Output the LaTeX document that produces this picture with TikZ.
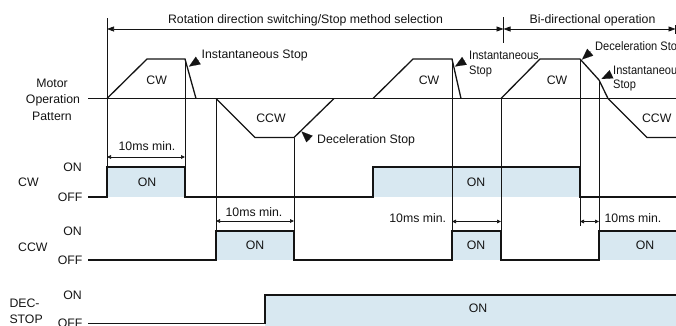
\documentclass[tikz,border=0pt]{standalone}
\usepackage{fontspec}
\setmainfont{Liberation Sans}
\newfontfamily\narrowsans[FakeStretch=0.9]{Liberation Sans}
\usetikzlibrary{arrows.meta}
\definecolor{onfill}{RGB}{216,232,241}
\definecolor{ink}{RGB}{20,20,20}
\begin{document}
\begin{tikzpicture}[x=1pt,y=-1pt,
  lbl/.style={inner sep=0pt,text height=8.8pt,text depth=0pt,text=ink,font=\fontsize{12.3}{14}\selectfont},
  nlbl/.style={lbl,font=\narrowsans\fontsize{12.3}{14}\selectfont},
  sig/.style={line width=1.6pt,draw=ink,line join=miter},
  mot/.style={line width=1.3pt,draw=ink,line join=miter},
  thinline/.style={line width=0.7pt,draw=ink},
  spanarrow/.style={thinline,{Triangle[length=7pt,width=5pt]}-{Triangle[length=7pt,width=5pt]}},
  msarrow/.style={thinline,{Triangle[length=4pt,width=3.6pt]}-{Triangle[length=4pt,width=3.6pt]}},
  pointer/.style={draw=ink,fill=ink,line width=0.1pt,-{Triangle[length=11pt,width=9pt]}}]
\useasboundingbox (0,0) rectangle (676,325);
\begin{scope}
\clip (0,0) rectangle (676,325);
% fills
\fill[onfill] (107,166.7) rectangle (185,196.7);
\fill[onfill] (373,166.7) rectangle (580,196.7);
\fill[onfill] (216,231) rectangle (294,260);
\fill[onfill] (452,231) rectangle (501,260);
\fill[onfill] (599,231) rectangle (676,260);
\fill[onfill] (265,295) rectangle (676,326);
% thin guide lines
\draw[thinline] (107,18) -- (107,166.7);
\draw[thinline] (185,59) -- (185,166.7);
\draw[thinline] (216,98.5) -- (216,231);
\draw[thinline] (294,137.5) -- (294,231);
\draw[thinline] (452,59) -- (452,231);
\draw[thinline] (501,98.5) -- (501,231);
\draw[thinline] (580,59) -- (580,226);
\draw[thinline] (599,80) -- (599,231);
\draw[thinline] (503.5,17) -- (503.5,43);
\draw[thinline] (675.5,25) -- (675.5,34);
% top span arrows
\coordinate (aL) at (107,29);
\coordinate (aM) at (503.5,29);
\coordinate (aR) at (675.5,29);
\draw[spanarrow] (aL) -- (aM);
\draw[spanarrow] (aM) -- (aR);
\node[lbl] (trot) at (305.5,19) {Rotation direction switching/Stop method selection};
\node[lbl] (tbi) at (592.5,19) {Bi-directional operation};
% motor pattern
\draw[mot] (88,98.5) -- (676,98.5);
\draw[mot] (107,98.5) -- (147,59) -- (185,59) -- (196,98.5);
\draw[mot] (216,98.5) -- (255,137.5) -- (294,137.5) -- (334,98.5);
\draw[mot] (373,98.5) -- (413,59) -- (452,59) -- (461,98.5);
\draw[mot] (501,98.5) -- (540,59) -- (580,59) -- (599,80) -- (608,98.5) -- (647,137.5) -- (677,137.5);
\node[lbl] (cw1) at (156.7,80) {CW};
\node[lbl] (ccw1) at (271,118) {CCW};
\node[lbl] (cw2) at (429,80) {CW};
\node[lbl] (cw3) at (557,80) {CW};
\node[lbl] (ccw3) at (656.7,118) {CCW};
\node[lbl] (mo1) at (52,83) {Motor};
\node[lbl] (mo2) at (53,99.5) {Operation};
\node[lbl] (mo3) at (52,116) {Pattern};
% pointers
\coordinate (p1t) at (189,66.5); \coordinate (p1b) at (199,60);
\coordinate (p2t) at (301.5,131.5); \coordinate (p2b) at (310,139.5);
\coordinate (p3t) at (455,66.5); \coordinate (p3b) at (465,60.5);
\coordinate (p4t) at (582,59.5); \coordinate (p4b) at (591,51.5);
\coordinate (p5t) at (601.5,79); \coordinate (p5b) at (612,74);
\draw[pointer] (p1b) -- (p1t);
\draw[pointer] (p2b) -- (p2t);
\draw[pointer] (p3b) -- (p3t);
\draw[pointer] (p4b) -- (p4t);
\draw[pointer] (p5b) -- (p5t);
\node[lbl,anchor=west] (s1) at (201.5,54.5) {Instantaneous Stop};
\node[lbl,anchor=west] (s2) at (317,139) {Deceleration Stop};
\node[nlbl,anchor=west] (s3a) at (469,55) {Instantaneous};
\node[nlbl,anchor=west] (s3b) at (469,70) {Stop};
\node[nlbl,anchor=west] (s4) at (595,46) {Deceleration Stop};
\node[nlbl,anchor=west] (s5a) at (613,70) {Instantaneous};
\node[nlbl,anchor=west] (s5b) at (613,84.5) {Stop};
% signals
\draw[sig] (88,196.7) -- (107,196.7) -- (107,166.7) -- (185,166.7) -- (185,196.7) -- (373,196.7) -- (373,166.7) -- (580,166.7) -- (580,196.7) -- (677,196.7);
\draw[sig] (88,260) -- (216,260) -- (216,231) -- (294,231) -- (294,260) -- (452,260) -- (452,231) -- (501,231) -- (501,260) -- (599,260) -- (599,231) -- (677,231);
\draw[sig] (88,323.3) -- (265,323.3) -- (265,295) -- (677,295);
% 10ms arrows
\coordinate (m1a) at (107,157); \coordinate (m1b) at (185,157);
\coordinate (m2a) at (216,221); \coordinate (m2b) at (294,221);
\coordinate (m3a) at (452,221.5); \coordinate (m3b) at (501,221.5);
\coordinate (m4a) at (580,221.5); \coordinate (m4b) at (599,221.5);
\draw[msarrow] (m1a) -- (m1b);
\draw[msarrow] (m2a) -- (m2b);
\draw[msarrow] (m3a) -- (m3b);
\draw[msarrow] (m4a) -- (m4b);
\node[lbl] (ms1) at (147,146.5) {10ms min.};
\node[lbl] (ms2) at (254,211.7) {10ms min.};
\node[lbl] (ms3) at (417.7,218.3) {10ms min.};
\node[lbl] (ms4) at (633,218.3) {10ms min.};
% ON labels in boxes
\node[lbl] (on1) at (147,181.7) {ON};
\node[lbl] (on2) at (476,181.7) {ON};
\node[lbl] (on3) at (255,245) {ON};
\node[lbl] (on4) at (476,245) {ON};
\node[lbl] (on5) at (645,245) {ON};
\node[lbl] (on6) at (478,308) {ON};
% left labels
\node[lbl,anchor=west] (lcw) at (18,182) {CW};
\node[lbl,anchor=west] (lccw) at (18,247) {CCW};
\node[lbl,anchor=west] (ldec1) at (9.3,303) {DEC-};
\node[lbl,anchor=west] (ldec2) at (9.3,319) {STOP};
\node[lbl,anchor=east] (on_cw) at (82,166.7) {ON};
\node[lbl,anchor=east] (off_cw) at (82.7,197.3) {OFF};
\node[lbl,anchor=east] (on_ccw) at (82,231) {ON};
\node[lbl,anchor=east] (off_ccw) at (82.7,260) {OFF};
\node[lbl,anchor=east] (on_dec) at (82,295) {ON};
\node[lbl,anchor=east] (off_dec) at (82.7,322.7) {OFF};
\end{scope}
\end{tikzpicture}
\end{document}
